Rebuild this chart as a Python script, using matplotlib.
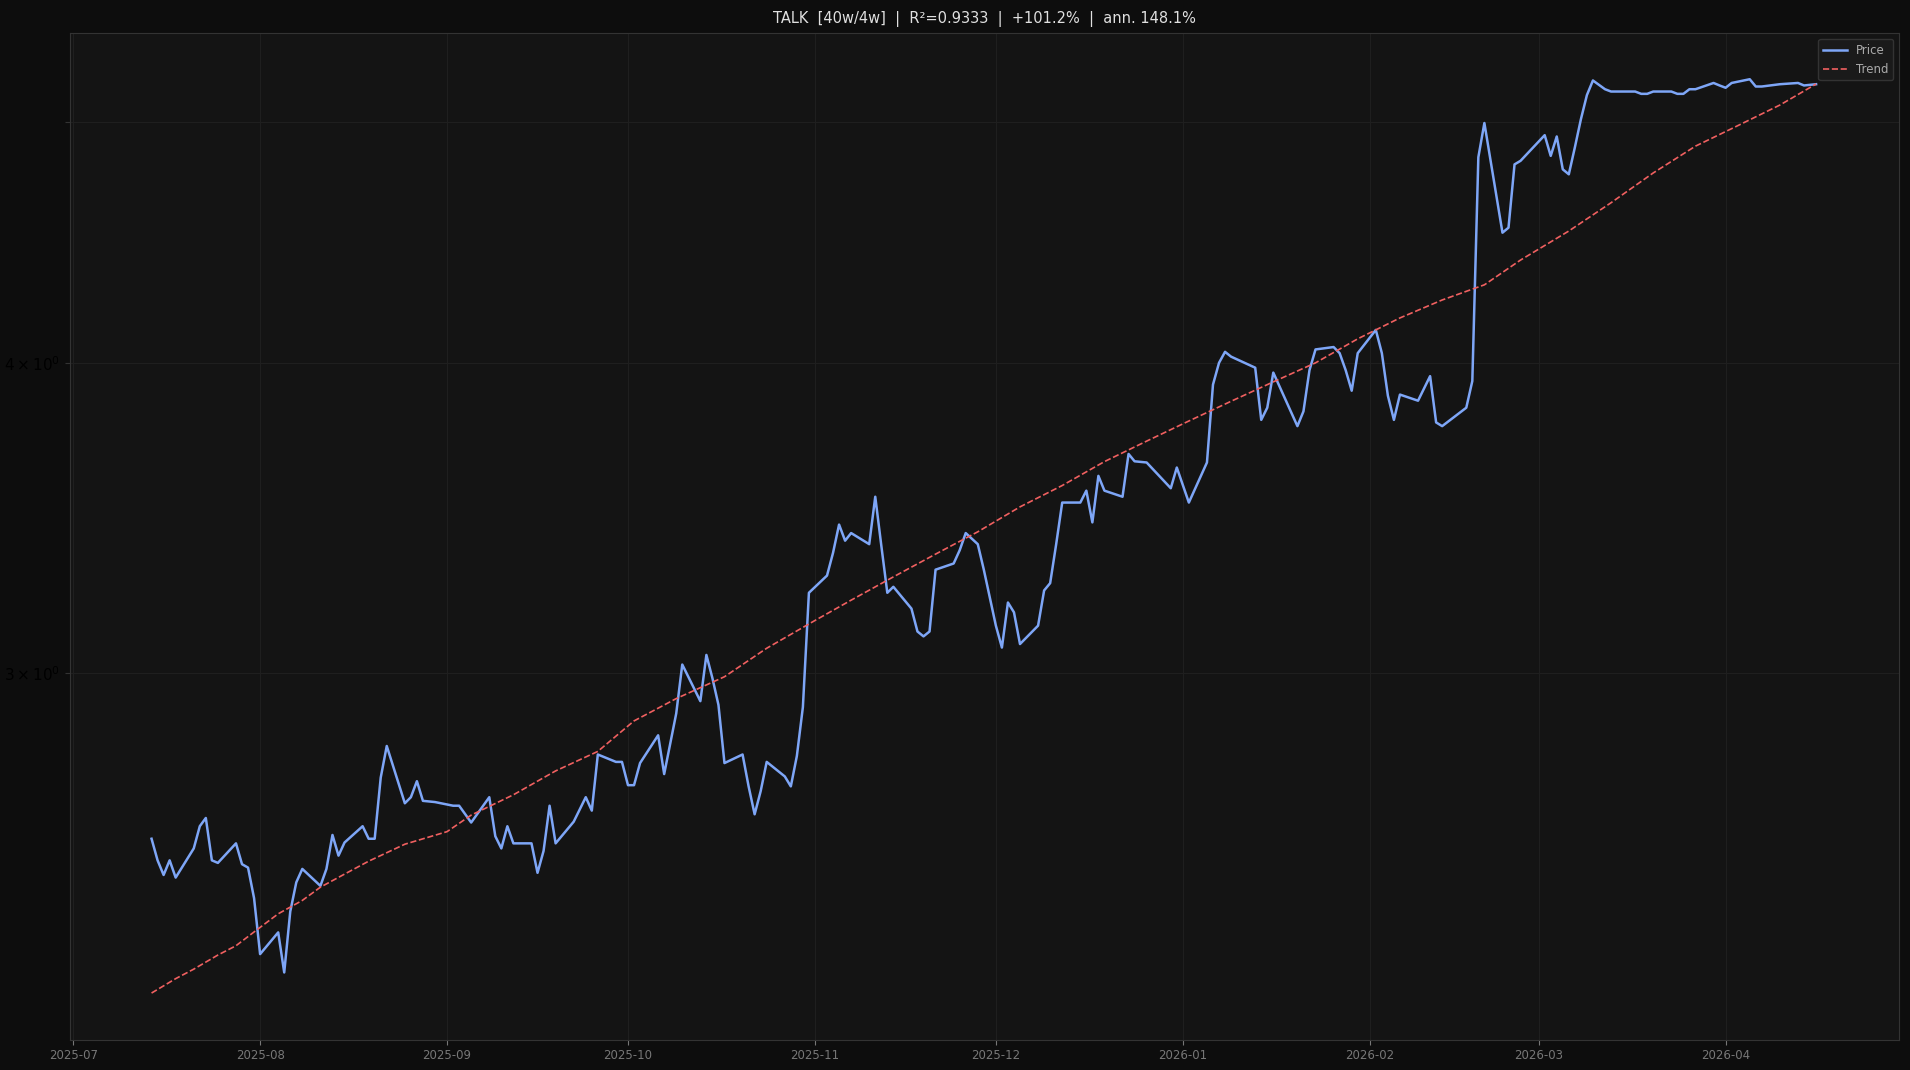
import numpy as np
import pandas as pd
import matplotlib
matplotlib.use("Agg")
import matplotlib.pyplot as plt
import matplotlib.ticker as mticker

start = pd.Timestamp("2025-07-01")

# days since 2025-07-01 and price
price_days = [13, 14, 15, 16, 17, 20, 21, 22, 23, 24, 27, 28, 29, 30, 31, 34, 35, 36, 37, 38,
              41, 42, 43, 44, 45, 48, 49, 50, 51, 52, 55, 56, 57, 58, 60, 63, 64, 66, 69, 70,
              71, 72, 73, 76, 77, 78, 79, 80, 83, 85, 86, 87, 90, 91, 92, 93, 94, 97, 98, 100,
              101, 104, 105, 106, 107, 108, 111, 112, 113, 114, 115, 118, 119, 120, 121, 122, 125, 126, 127, 128,
              129, 132, 133, 134, 135, 136, 139, 140, 141, 142, 143, 146, 147, 148, 150, 151, 153, 154, 155, 156,
              157, 160, 161, 162, 163, 164, 167, 168, 169, 170, 171, 174, 175, 176, 178, 182, 183, 185, 188, 189,
              190, 191, 192, 196, 197, 198, 199, 203, 204, 205, 206, 209, 210, 211, 212, 213, 216, 217, 218, 219,
              220, 223, 225, 226, 227, 231, 232, 233, 234, 237, 238, 239, 240, 244, 245, 246, 247, 248, 249, 250,
              251, 252, 254, 255, 259, 260, 261, 262, 265, 266, 267, 268, 269, 272, 273, 274, 275, 278, 279, 280,
              283, 286, 287, 289]
price = [2.573, 2.522, 2.488, 2.522, 2.482, 2.550, 2.603, 2.623, 2.522, 2.516, 2.562, 2.513, 2.505, 2.435, 2.312, 2.359, 2.273, 2.405, 2.471, 2.502,
         2.463, 2.502, 2.582, 2.533, 2.564, 2.603, 2.573, 2.573, 2.723, 2.804, 2.659, 2.674, 2.714, 2.665, 2.662, 2.653, 2.653, 2.612, 2.674, 2.579,
         2.550, 2.603, 2.562, 2.562, 2.493, 2.544, 2.653, 2.562, 2.614, 2.674, 2.641, 2.782, 2.763, 2.763, 2.704, 2.704, 2.760, 2.832, 2.732, 2.890,
         3.024, 2.923, 3.051, 2.986, 2.913, 2.760, 2.782, 2.701, 2.632, 2.689, 2.763, 2.726, 2.701, 2.778, 2.907, 3.232, 3.284, 3.354, 3.443, 3.392,
         3.416, 3.381, 3.533, 3.377, 3.232, 3.250, 3.185, 3.118, 3.104, 3.118, 3.302, 3.321, 3.362, 3.416, 3.381, 3.302, 3.135, 3.072, 3.203, 3.174,
         3.082, 3.135, 3.239, 3.261, 3.381, 3.514, 3.514, 3.553, 3.450, 3.602, 3.553, 3.533, 3.676, 3.651, 3.647, 3.561, 3.630, 3.514, 3.647, 3.920,
         4.000, 4.041, 4.023, 3.982, 3.794, 3.837, 3.964, 3.772, 3.824, 3.973, 4.050, 4.059, 4.036, 3.973, 3.898, 4.036, 4.124, 4.036, 3.880, 3.794,
         3.884, 3.862, 3.951, 3.785, 3.772, 3.837, 3.933, 4.840, 4.996, 4.513, 4.534, 4.808, 4.824, 4.940, 4.846, 4.934, 4.786, 4.764, 4.884, 5.013,
         5.127, 5.197, 5.155, 5.144, 5.144, 5.133, 5.133, 5.144, 5.144, 5.133, 5.133, 5.155, 5.155, 5.185, 5.173, 5.162, 5.185, 5.203, 5.168, 5.168,
         5.179, 5.185, 5.173, 5.179]
assert len(price_days) == len(price)

# trend (it wobbles a little)
trend_days = [13, 17, 20, 24, 27, 31, 34, 38, 41, 45, 49, 55, 62, 66, 73, 80, 87, 93, 100,
              108, 115, 123, 129, 136, 143, 150, 157, 164, 171, 178, 185, 192, 199, 206, 213,
              220, 227, 234, 240, 248, 255, 262, 269, 275, 283, 289]
trend = [2.23, 2.26, 2.28, 2.31, 2.33, 2.37, 2.40, 2.43, 2.46, 2.49, 2.52, 2.56, 2.59, 2.63,
         2.68, 2.74, 2.79, 2.87, 2.93, 2.99, 3.07, 3.15, 3.21, 3.28, 3.35, 3.42, 3.50, 3.57,
         3.65, 3.72, 3.79, 3.86, 3.93, 4.00, 4.09, 4.17, 4.24, 4.30, 4.40, 4.52, 4.64, 4.77,
         4.89, 4.97, 5.08, 5.18]

title = "TALK  [40w/4w]  |  R\u00b2=0.9333  |  +101.2%  |  ann. 148.1%"

price_dates = start + pd.to_timedelta(price_days, unit="D")
trend_dates = start + pd.to_timedelta(trend_days, unit="D")

fig = plt.figure(figsize=(19.1, 10.7), dpi=100, facecolor="#0d0d0d")
ax = fig.add_axes([0.0364, 0.0285, 0.958, 0.9405], facecolor="#141414")

ax.plot(price_dates, price, color="#7ea6f7", lw=1.8, label="Price")
ax.plot(trend_dates, trend, color="#f06060", lw=1.2, ls="--", label="Trend")

ax.set_yscale("log")
ax.set_ylim(2.136, 5.43)
ax.set_xlim(start + pd.Timedelta(days=-0.6), start + pd.Timedelta(days=302.8))
ax.yaxis.set_major_locator(mticker.FixedLocator([3, 4, 5]))
ax.yaxis.set_major_formatter(mticker.FixedFormatter([r"$3\times10^{0}$", r"$4\times10^{0}$", ""]))
ax.yaxis.set_minor_locator(mticker.NullLocator())

ax.grid(True, color="#1f1f1f", lw=0.8)
ax.tick_params(axis="x", colors="#777777", labelsize=8.5)
ax.tick_params(axis="y", colors="#333333", labelcolor="#000000", labelsize=11)
for s in ax.spines.values():
    s.set_color("#333333")

ax.set_title(title, color="#e0e0e0", fontsize=10.5, pad=7)
leg = ax.legend(loc="upper right", fontsize=8.5, facecolor="#1a1a1a", edgecolor="#333333",
                labelcolor="#aaaaaa", framealpha=1)

fig.savefig("out.png", facecolor=fig.get_facecolor())
